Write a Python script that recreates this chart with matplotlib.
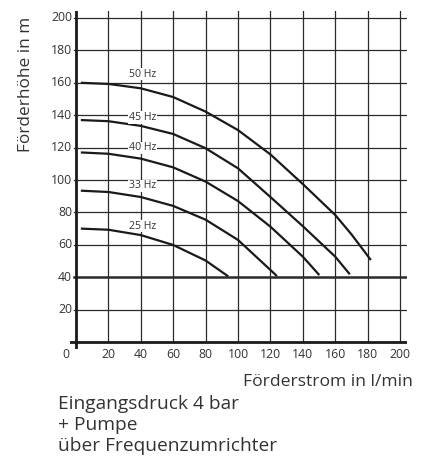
import numpy as np
import matplotlib
matplotlib.use("Agg")
import matplotlib.pyplot as plt

plt.rcParams['font.family'] = ['Open Sans', 'DejaVu Sans']

# Kennlinien (Förderstrom l/min, Förderhöhe m)
hz_labels = ['50 Hz', '45 Hz', '40 Hz', '33 Hz', '25 Hz']
q_50 = [3, 20, 40, 60, 80, 100, 120, 140, 160, 170, 182]
h_50 = [160, 159.3, 156.6, 151.2, 142.2, 130.8, 115.8, 97.5, 78.4, 66.5, 50.6]
q_45 = [3, 20, 40, 60, 80, 100, 120, 140, 160, 169]
h_45 = [137, 136.3, 133.4, 128.4, 119.6, 107.2, 89.5, 71.5, 52.7, 41.8]
q_40 = [3, 20, 40, 60, 80, 100, 120, 140, 150.2]
h_40 = [117, 116.2, 113.2, 107.8, 99, 87, 71.2, 52.7, 41.3]
q_33 = [3, 20, 40, 60, 80, 100, 120, 124]
h_33 = [93.4, 92.6, 89.5, 84, 75.5, 63, 44.5, 40.7]
q_25 = [3, 20, 40, 60, 80, 94]
h_25 = [70, 69.3, 66, 59.9, 50.3, 40.5]
label_y = [165.4, 138.7, 119.8, 96.3, 71.6]

x_ticks = [20, 40, 60, 80, 100, 120, 140, 160, 180, 200]
y_ticks = [20, 40, 60, 80, 100, 120, 140, 160, 180, 200]

txt = '#333333'
ln = '#1a1a1a'

fig = plt.figure(figsize=(4.23, 4.69), dpi=100)
ax = fig.add_axes([69.5 / 423, (469 - 348.5) / 469, 337 / 423, 337 / 469])
ax.set_xlim(-4, 204)
ax.set_ylim(-4, 204)
ax.axis('off')

# Gitter
for x in x_ticks:
    ax.plot([x, x], [0, 204], color='#2a2a2a', lw=0.9, zorder=1)
for y in y_ticks:
    w = 1.8 if y == 40 else 0.9
    ax.plot([-1, 204], [y, y], color='#2a2a2a', lw=w, zorder=1)
ax.plot([-4, 204], [0, 0], color=ln, lw=2.0, zorder=2)
ax.plot([0, 0], [-4, 204], color=ln, lw=2.0, zorder=2)

# Kurven
for q, h in [(q_50, h_50), (q_45, h_45), (q_40, h_40), (q_33, h_33), (q_25, h_25)]:
    ax.plot(q, h, color=ln, lw=1.6, zorder=3, solid_capstyle='butt', solid_joinstyle='round')

for lab, y in zip(hz_labels, label_y):
    ax.text(41, y, lab, ha='center', va='center', fontsize=7.6, color=txt, zorder=4,
            bbox=dict(facecolor='white', edgecolor='none', pad=0.6))

# Achsenbeschriftung
for x in x_ticks:
    ax.text(x, -8, str(x), ha='center', va='center', fontsize=8.8, color=txt)
ax.text(-6, -8, '0', ha='center', va='center', fontsize=8.8, color=txt)
for y in y_ticks:
    ax.text(-2.5, y, str(y), ha='right', va='center', fontsize=8.8, color=txt)

fig.text(26 / 423, 1 - 84 / 469, 'Förderhöhe in m', rotation=90, ha='center', va='center',
         fontsize=12.4, color=txt)
fig.text(413 / 423, 1 - 382 / 469, 'Förderstrom in l/min', ha='right', va='center',
         fontsize=12.6, color=txt)
fig.text(58 / 423, 1 - 425 / 469, 'Eingangsdruck 4 bar\n+ Pumpe\nüber Frequenzumrichter',
         ha='left', va='center', fontsize=13.8, color=txt, linespacing=1.2)

fig.savefig('out.png', dpi=100)
